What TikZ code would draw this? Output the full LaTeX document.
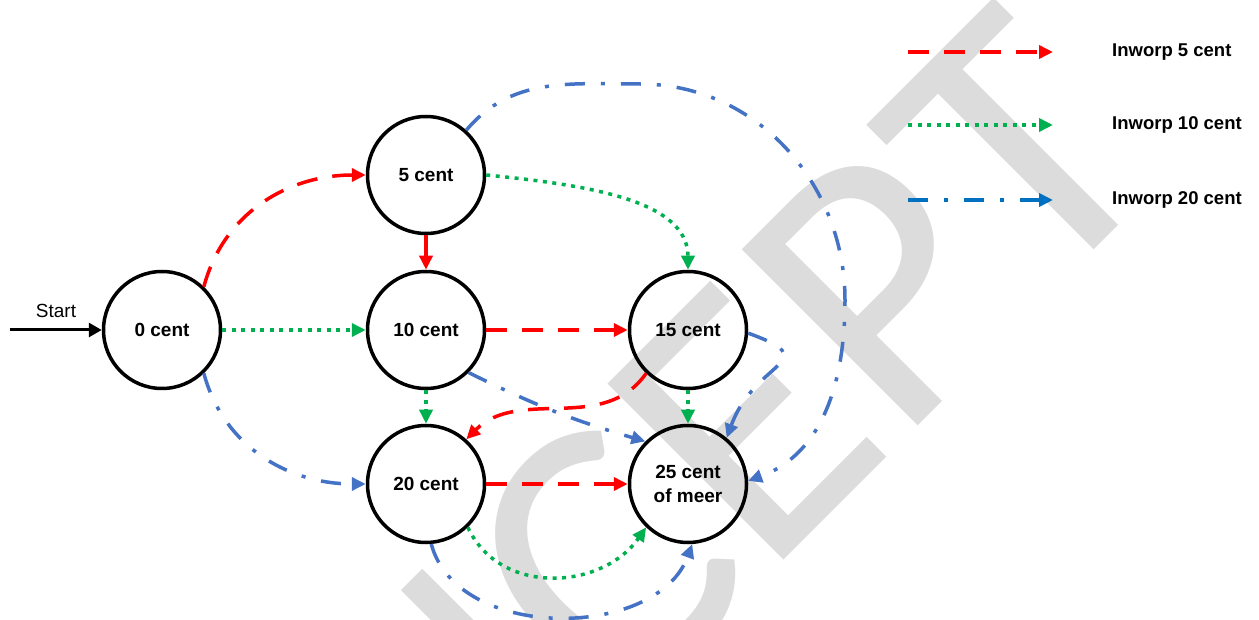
\documentclass[tikz,border=0pt]{standalone}
\usepackage{fontspec}
\setmainfont{Liberation Sans}
\newfontfamily\markfont{Carlito}
\usetikzlibrary{arrows.meta}

\definecolor{coinred}{RGB}{255,0,0}
\definecolor{coingreen}{RGB}{0,176,80}
\definecolor{coinblue}{RGB}{68,114,196}
\definecolor{keyblue}{RGB}{0,112,192}
\definecolor{markgray}{RGB}{220,220,220}

\tikzset{
  coin/.style={circle, draw=black, line width=3.5pt, minimum size=117pt,
    inner sep=0pt, align=center, font=\fontsize{19}{24}\selectfont\bfseries},
  headtip/.style={-{Triangle[length=14pt,width=13pt]}},
  five/.style={coinred, line width=3.5pt, dash pattern=on 21pt off 15pt, headtip},
  ten/.style={coingreen, line width=3.5pt, dash pattern=on 4pt off 5.5pt, headtip},
  twenty/.style={coinblue, line width=3.5pt,
    dash pattern=on 20pt off 16pt on 4pt off 16pt, headtip},
  keytext/.style={anchor=west, inner sep=0pt, font=\fontsize{18.5}{22}\selectfont\bfseries},
}

\begin{document}
\begin{tikzpicture}[x=1pt,y=1pt]
\fill[white] (0,0) rectangle (1259,619);
\useasboundingbox (0,0) rectangle (1259,619);

% draft watermark behind everything
\begin{scope}
  \clip (0,0) rectangle (1259,619);
  \node[markgray, rotate=45, anchor=base east, inner sep=0pt,
        font=\markfont\fontsize{388}{388}\selectfont] (mark) at (1173,448) {CONCEPT};
\end{scope}

% states
\node[coin] (c0)  at (162,289) {0 cent};
\node[coin] (c5)  at (426,444) {5 cent};
\node[coin] (c10) at (426,289) {10 cent};
\node[coin] (c15) at (688,289) {15 cent};
\node[coin] (c20) at (426,135) {20 cent};
\node[coin] (c25) at (688,135) {25 cent\\of meer};

% start arrow
\coordinate (s0) at (10,289);
\node[font=\fontsize{19}{23}\selectfont, inner sep=0pt] (startlabel) at (56,308.5) {Start};
\draw[line width=3pt, -{Triangle[length=13pt,width=14pt]}] (s0) -- (c0);

% 5 cent coin
\draw[five] (c0.46) to[out=75,in=180] (c5.west);
\draw[five] (c5) -- (c10);
\draw[five] (c10) -- (c15);
\draw[five] (c15.226) to[out=235,in=45] (c20.48);
\draw[five] (c20) -- (c25);

% 10 cent coin
\draw[ten] (c0) -- (c10);
\draw[ten] (c5.east) .. controls +(100,-10) and +(0,70) .. (c15.north);
\draw[ten] (c10) -- (c20);
\draw[ten] (c15) -- (c25);
\draw[ten] (c20.-46) to[out=-65,in=235,looseness=1.1] (c25.226);

% 20 cent coin
\draw[twenty] (c0.-46) to[out=-75,in=180] (c20.west);
\coordinate (arctop) at (640,535);
\coordinate (arcright) at (845,319);
\draw[twenty] (c5.48) to[out=50,in=180] (arctop) to[out=0,in=90] (arcright)
  to[out=-90,in=20] (c25.3);
\draw[twenty] (c10.-45) to[bend right=5] (c25.135);
\draw[twenty] (c15.-3) to[out=-20,in=70,looseness=2] (c25.50);
\draw[twenty] (c20.-85) to[out=-75,in=-110] (c25.-86);

% legend
\coordinate (k5a) at (908,567);  \coordinate (k5b) at (1053,567);
\coordinate (k10a) at (908,494); \coordinate (k10b) at (1053,494);
\coordinate (k20a) at (908,419); \coordinate (k20b) at (1053,419);
\draw[five] (k5a) -- (k5b);
\draw[ten] (k10a) -- (k10b);
\draw[twenty, keyblue] (k20a) -- (k20b);
\node[keytext] (k5)  at (1112,567) {Inworp 5 cent};
\node[keytext] (k10) at (1112,494) {Inworp 10 cent};
\node[keytext] (k20) at (1112,419) {Inworp 20 cent};
\end{tikzpicture}
\end{document}
